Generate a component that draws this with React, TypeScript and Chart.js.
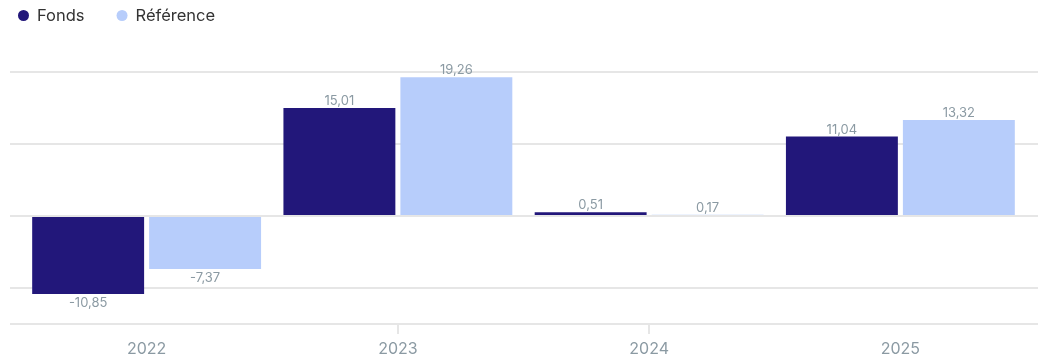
import React, { useEffect, useRef } from "react";
import { Chart, registerables } from "chart.js";

Chart.register(...registerables);

const categories = ["2022", "2023", "2024", "2025"];
const seriesNames = ["Fonds", "Référence"];
const fondsValues = [-10.85, 15.01, 0.51, 11.04];
const referenceValues = [-7.37, 19.26, 0.17, 13.32];
const yTicks = [-15, -10, 0, 10, 20];

const FONDS_COLOR = "#22177a";
const REF_COLOR = "#b7cdfb";
const GRID_COLOR = "#e6e6e6";
const LABEL_COLOR = "#8b9aa3";
const FONT = "Inter";

const fmt = (v: number) => v.toFixed(2).replace(".", ",");

const valueLabels = {
  id: "valueLabels",
  afterDatasetsDraw(chart: any) {
    const ctx = chart.ctx;
    ctx.save();
    ctx.font = `13px ${FONT}`;
    ctx.fillStyle = LABEL_COLOR;
    ctx.textAlign = "center";
    ctx.textBaseline = "alphabetic";
    chart.data.datasets.forEach((ds: any, i: number) => {
      const meta = chart.getDatasetMeta(i);
      meta.data.forEach((el: any, j: number) => {
        const v = ds.data[j] as number;
        const txt = fmt(v);
        if (v >= 0) ctx.fillText(txt, el.x, el.y - 3);
        else ctx.fillText(txt, el.x, el.y + 13);
      });
    });
    ctx.restore();
  },
};

const customLegend = {
  id: "customLegend",
  afterDraw(chart: any) {
    const ctx = chart.ctx;
    ctx.save();
    ctx.font = `16.5px ${FONT}`;
    ctx.textBaseline = "alphabetic";
    ctx.textAlign = "left";
    let x = 18;
    const cy = 15.5;
    chart.data.datasets.forEach((ds: any) => {
      ctx.beginPath();
      ctx.fillStyle = ds.backgroundColor;
      ctx.arc(x + 5.5, cy, 5.5, 0, Math.PI * 2);
      ctx.fill();
      ctx.fillStyle = "#333333";
      const tx = x + 19;
      ctx.fillText(ds.label, tx, 21);
      x = tx + ctx.measureText(ds.label).width + 32;
    });
    ctx.restore();
  },
};

const setTicks = (scale: any) => {
  scale.ticks = yTicks.map((v) => ({ value: v }));
};

export default function App() {
  const ref = useRef<HTMLCanvasElement | null>(null);

  useEffect(() => {
    if (!ref.current) return;
    Chart.defaults.font.family = FONT;
    const chart = new Chart(ref.current, {
      type: "bar",
      data: {
        labels: categories,
        datasets: [
          {
            label: seriesNames[0],
            data: fondsValues,
            backgroundColor: FONDS_COLOR,
            categoryPercentage: 0.931,
            barPercentage: 0.957,
          },
          {
            label: seriesNames[1],
            data: referenceValues,
            backgroundColor: REF_COLOR,
            categoryPercentage: 0.931,
            barPercentage: 0.957,
          },
        ],
      },
      options: {
        responsive: false,
        animation: false,
        layout: { padding: { left: 10, right: 9, top: 72, bottom: 0 } },
        plugins: {
          legend: { display: false },
          tooltip: { enabled: false },
        },
        scales: {
          x: {
            border: { display: false },
            afterFit: (scale: any) => {
              scale.height = 34;
            },
            grid: {
              display: true,
              drawOnChartArea: false,
              drawTicks: true,
              tickLength: 10,
              offset: false,
              lineWidth: 2,
              color: (c: any) =>
                c.index === 1 || c.index === 2 ? GRID_COLOR : "rgba(0,0,0,0)",
            },
            ticks: {
              color: LABEL_COLOR,
              font: { family: FONT, size: 16 },
              padding: 6,
            },
          },
          y: {
            position: "left",
            min: -15,
            max: 20,
            afterBuildTicks: setTicks,
            ticks: { display: false },
            border: { display: false },
            grid: {
              color: GRID_COLOR,
              lineWidth: 2,
              drawTicks: true,
              tickLength: 11,
            },
          },
          y2: {
            position: "right",
            min: -15,
            max: 20,
            afterBuildTicks: setTicks,
            ticks: { display: false },
            border: { display: false },
            grid: {
              color: GRID_COLOR,
              lineWidth: 2,
              drawOnChartArea: false,
              drawTicks: true,
              tickLength: 12,
            },
          },
        },
      } as any,
      plugins: [valueLabels, customLegend],
    });
    return () => chart.destroy();
  }, []);

  return (
    <div style={{ position: "absolute", left: 0, top: 0, width: 1047, height: 358, background: "#ffffff" }}>
      <canvas ref={ref} width={1047} height={358} />
    </div>
  );
}
